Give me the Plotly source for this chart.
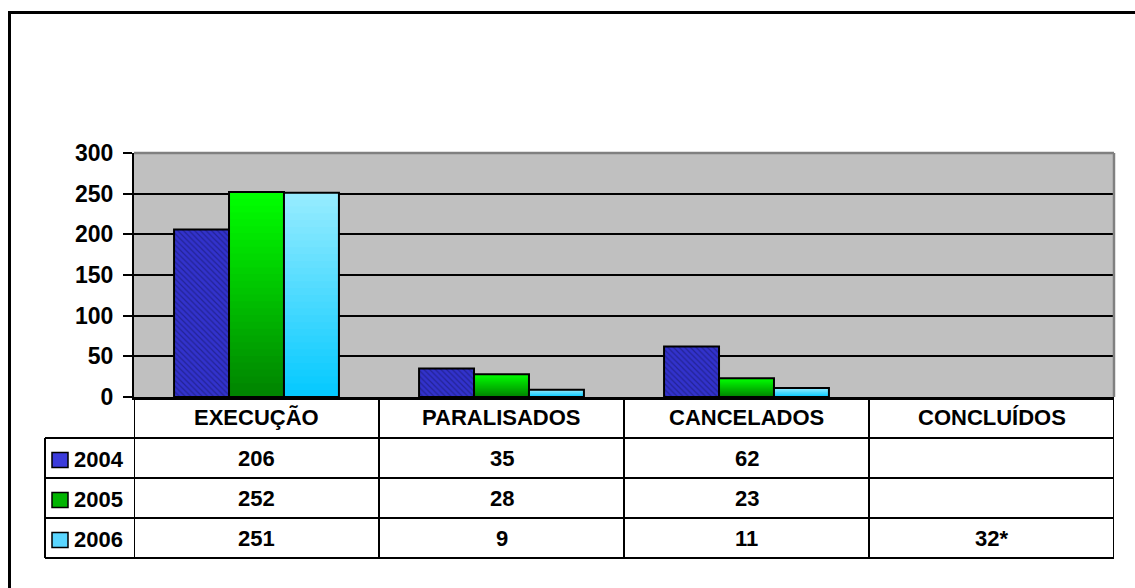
import plotly.graph_objects as go

# ---------------- data ----------------
categories = ["EXECUÇÃO", "PARALISADOS", "CANCELADOS", "CONCLUÍDOS"]
years = ["2004", "2005", "2006"]
v2004 = [206, 35, 62, None]
v2005 = [252, 28, 23, None]
v2006 = [251, 9, 11, None]
note_2006_concluidos = "32*"
yticks = [0, 50, 100, 150, 200, 250, 300]

series = [v2004, v2005, v2006]
table_text = [[("" if v is None else str(v)) for v in s] for s in series]
table_text[2][3] = note_2006_concluidos

# ---------------- style ----------------
FONT = "Liberation Sans, Arial, sans-serif"
W, H = 1135, 588
L, R, T, B = 134, 21, 153, 191
PW, PH = W - L - R, H - T - B


def px_x(px):
    return (px - L) / PW


def px_y(py):
    return (H - B - py) / PH


group_w = 0.673
bar_w = group_w / 3
offsets = [-group_w / 2 + i * bar_w for i in range(3)]

# gradient endpoints (bottom, top)
grad = {
    1: ((0, 128, 0), (0, 255, 0)),
    2: ((0, 200, 255), (150, 236, 255)),
}
NLAYERS = 30


def mix(c0, c1, t):
    return "rgb(%d,%d,%d)" % tuple(round(a + (b - a) * t) for a, b in zip(c0, c1))


fig = go.Figure()

for i, vals in enumerate(series):
    if i == 0:
        fig.add_trace(go.Bar(
            x=categories, y=vals, width=bar_w, offset=offsets[i],
            marker=dict(color="#3232cc",
                        pattern=dict(shape="\\", fgcolor="#14145e", size=4, solidity=0.3),
                        line=dict(color="black", width=2)),
            hoverinfo="skip", showlegend=False))
    else:
        c0, c1 = grad[i]
        for k in range(NLAYERS, 0, -1):
            t = k / NLAYERS
            fig.add_trace(go.Bar(
                x=categories,
                y=[None if v is None else v * t for v in vals],
                width=bar_w, offset=offsets[i],
                marker=dict(color=mix(c0, c1, t), line=dict(width=0)),
                hoverinfo="skip", showlegend=False))
        fig.add_trace(go.Bar(
            x=categories, y=vals, width=bar_w, offset=offsets[i],
            marker=dict(color="rgba(0,0,0,0)", line=dict(color="black", width=2)),
            hoverinfo="skip", showlegend=False))

shapes = []
# plot-area grey top/right border
shapes.append(dict(type="line", xref="paper", yref="paper", x0=0, x1=1, y0=1, y1=1,
                   line=dict(color="#808080", width=2.5), layer="above"))
shapes.append(dict(type="line", xref="paper", yref="paper", x0=1, x1=1, y0=0, y1=1,
                   line=dict(color="#808080", width=2.5), layer="above"))

# table
row_edges = [438, 478, 518, 558]
y_bottom = px_y(558)
for py in row_edges:
    shapes.append(dict(type="line", xref="paper", yref="paper", x0=px_x(45), x1=1,
                       y0=px_y(py), y1=px_y(py), line=dict(color="black", width=2)))
for j in range(len(categories) + 1):
    shapes.append(dict(type="line", xref="x", yref="paper", x0=j - 0.5, x1=j - 0.5,
                       y0=y_bottom, y1=0, line=dict(color="black", width=2)))
shapes.append(dict(type="line", xref="paper", yref="paper", x0=px_x(45), x1=px_x(45),
                   y0=y_bottom, y1=px_y(438), line=dict(color="black", width=2)))

# outer frame (partly cropped)
shapes.append(dict(type="line", xref="paper", yref="paper", x0=px_x(9.5), x1=px_x(9.5),
                   y0=px_y(600), y1=px_y(12.5), line=dict(color="black", width=3)))
shapes.append(dict(type="line", xref="paper", yref="paper", x0=px_x(8), x1=px_x(1150),
                   y0=px_y(12.5), y1=px_y(12.5), line=dict(color="black", width=3)))

key_colors = ["#3c3cdc", "#00b400", "#5ad6ff"]
annotations = []
hdr_font = dict(family=FONT, size=22, color="black", weight="bold")
for cat in categories:
    annotations.append(dict(x=cat, xref="x", y=px_y(417), yref="paper", text=cat,
                            showarrow=False, font=hdr_font, xanchor="center", yanchor="middle"))
for r, yr in enumerate(years):
    top, bot = row_edges[r], row_edges[r + 1]
    cy = (top + bot) / 2 + 2
    shapes.append(dict(type="rect", xref="paper", yref="paper",
                       x0=px_x(52), x1=px_x(68), y0=px_y(cy - 7.5), y1=px_y(cy + 7.5),
                       fillcolor=key_colors[r], line=dict(color="black", width=1.5)))
    annotations.append(dict(x=px_x(72), xref="paper", y=px_y(cy - 1), yref="paper", text=yr,
                            showarrow=False, font=hdr_font, xanchor="left", yanchor="middle"))
    for c, cat in enumerate(categories):
        if table_text[r][c]:
            annotations.append(dict(x=cat, xref="x", y=px_y(cy - 2), yref="paper",
                                    text=table_text[r][c], showarrow=False, font=hdr_font,
                                    xanchor="center", yanchor="middle"))

fig.update_layout(
    width=W, height=H,
    margin=dict(l=L, r=R, t=T, b=B),
    paper_bgcolor="white", plot_bgcolor="#c0c0c0",
    barmode="overlay",
    showlegend=False,
    hovermode=False,
    shapes=shapes, annotations=annotations,
    xaxis=dict(type="category", categoryorder="array", categoryarray=categories,
               range=[-0.5, len(categories) - 0.5], showticklabels=False, showgrid=False,
               showline=True, linecolor="black", linewidth=2.5, ticks="", zeroline=False,
               fixedrange=True),
    yaxis=dict(range=[0, 300], tickvals=yticks, showgrid=True, gridcolor="black", gridwidth=2,
               showline=True, linecolor="black", linewidth=2, ticks="outside", ticklen=9,
               tickwidth=2, tickcolor="black", zeroline=False, ticklabelstandoff=5,
               tickfont=dict(family=FONT, size=23, color="black", weight="bold"),
               fixedrange=True),
)

fig.write_html("out.html", config={"displayModeBar": False, "staticPlot": True},
               post_script="document.body.style.margin='0';document.body.style.overflow='hidden';")
